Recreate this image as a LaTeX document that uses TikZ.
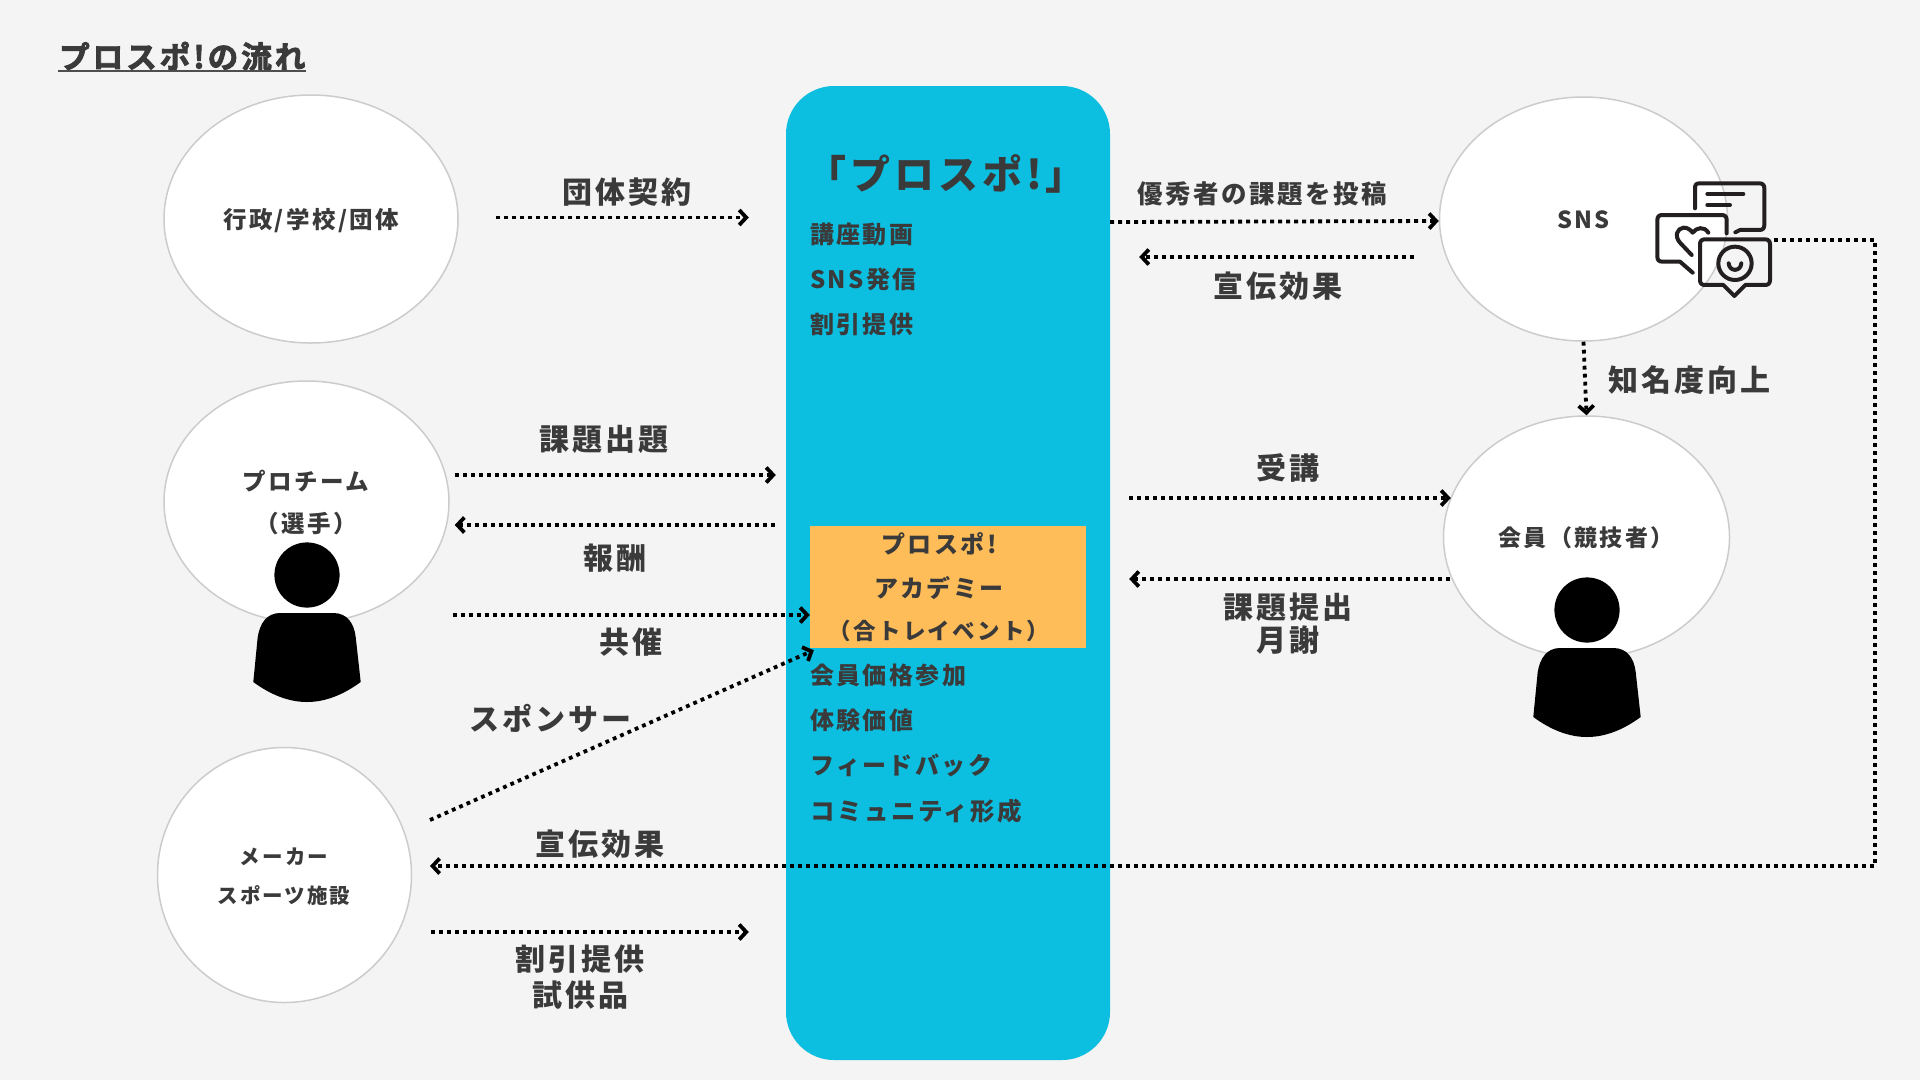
\documentclass[tikz,border=0pt]{standalone}
\usepackage{fontspec}
\setmainfont{Noto Sans CJK JP}[LetterSpace=10]
\newfontfamily\heavyfont{Noto Sans CJK JP Bold}[LetterSpace=10, FakeBold=3]
\usepackage{xcolor}
\usetikzlibrary{
  positioning, arrows.meta, shapes.geometric, calc
}
\definecolor{pageGray}{HTML}{F4F4F4}
\definecolor{coreBlue}{HTML}{0CBFE0}
\definecolor{academyOrange}{HTML}{FFBD59}
\definecolor{textDark}{HTML}{3A3A3A}
\definecolor{circleEdge}{HTML}{CCCCCC}
\definecolor{iconDark}{HTML}{231F20}

\begin{document}
\begin{tikzpicture}[
  x=1pt, y=-1pt,
  % Styles
  party/.style={
    ellipse, draw=circleEdge, line width=1.5pt, fill=white,
    inner sep=0pt, text=textDark, font=\bfseries\fontsize{23.5}{26}\selectfont,
    text height=21pt, text depth=2.4pt
  },
  flowlabel/.style={
    inner sep=0pt, text=textDark, font=\bfseries\fontsize{#1}{#1}\selectfont,
    text height=#1*0.86pt, text depth=#1*0.12pt
  },
  flowlabel/.default=30,
  flow/.style={
    -{Straight Barb[length=7pt, width=15pt, line width=3.8pt]},
    line width=3.8pt, black, dash pattern=on 3.8pt off 4.2pt
  },
  icon/.style={
    iconDark, line width=4pt, line cap=round, line join=round
  },
  person/.pic={
    \fill[black] (0,0) circle[radius=32.6];
    \fill[black] (-53.7,107) -- (-49.3,62)
      .. controls (-47,48) and (-40,38) .. (-27,38) -- (26.3,38)
      .. controls (40,38) and (47,48) .. (48.7,62) -- (53.7,107)
      .. controls (36,120) and (18,127) .. (0,127)
      .. controls (-18,127) and (-36,120) .. (-53.7,107) -- cycle;
  },
]

\fill[pageGray] (0,0) rectangle (1920,1080);
\useasboundingbox (0,0) rectangle (1920,1080);

% === TITLE ===
\node[flowlabel=30.5, anchor=west, font=\heavyfont\fontsize{30.5}{31}\selectfont] (title) at (59,57) {プロスポ!の流れ};
\draw[textDark!90, line width=2.4pt] ([xshift=-1pt,yshift=1pt]title.south west) -- ([yshift=1pt]title.south east);

% === CORE ===
\node[rectangle, rounded corners=48pt, fill=coreBlue, minimum width=324pt, minimum height=974pt, inner sep=0pt]
  (core) at (948,573) {};
\node[rectangle, fill=academyOrange, minimum width=276pt, minimum height=122pt, inner sep=0pt]
  (academy) at (948,587) {};

\node[flowlabel=40] (coretitle) at (946,175) {「プロスポ!」};
\node[flowlabel=24, anchor=west] (lecture) at (810,235) {講座動画};
\node[flowlabel=24, anchor=west] (snspost) at (810,280) {SNS発信};
\node[flowlabel=24, anchor=west] (discount) at (810,325) {割引提供};

\node[flowlabel=24] (academya) at (939,545) {プロスポ!};
\node[flowlabel=24] (academyb) at (939,589) {アカデミー};
\node[flowlabel=22.5] (academyc) at (939,631) {（合トレイベント）};

\node[flowlabel=24, anchor=west] (memberprice) at (810,676) {会員価格参加};
\node[flowlabel=24, anchor=west] (experience) at (810,721) {体験価値};
\node[flowlabel=24, anchor=west] (feedback) at (810,766) {フィードバック};
\node[flowlabel=24.5, anchor=west] (community) at (810,811) {コミュニティ形成};

% === LEFT PARTIES ===
\node[party, minimum width=294pt, minimum height=248pt] (gyosei) at (311,219) {行政/学校/団体};
\node[party, minimum width=285pt, minimum height=242pt] (team) at (306.5,502) {};
\node[party, minimum width=254pt, minimum height=255pt] (maker) at (284.5,875) {};

\node[flowlabel=23.5] (teamname) at (306,482) {プロチーム};
\node[flowlabel=23.5] (teamsub) at (306,524) {（選手）};
\node[flowlabel=20.5] (makername) at (284,857) {メーカー};
\node[flowlabel=20.5] (makersub) at (284,896) {スポーツ施設};
\pic at (307,575) {person};

% === RIGHT PARTIES ===
\node[party, minimum width=288pt, minimum height=244pt] (sns) at (1583.5,219) {SNS};
\node[party, minimum width=286pt, minimum height=242pt] (member) at (1586.5,537) {};
\node[flowlabel=23] (membername) at (1586,538) {会員（競技者）};
\pic at (1587,610) {person};

% === SNS ICON ===
\begin{scope}[shift={(1600,150)}, x=0.3333pt, y=-0.3333pt]
  \draw[icon] (285,175) -- (285,115) .. controls (285,105) and (288,100) .. (298,100) -- (478,100)
    .. controls (488,100) and (493,105) .. (493,115) -- (493,225) .. controls (493,235) and (488,240) .. (478,240)
    -- (420,240) -- (406,247);
  \draw[icon] (322,132) -- (430,132);
  \draw[icon] (322,165) -- (390,165);
  \draw[icon] (380,250) -- (380,210) .. controls (380,200) and (375,195) .. (365,195) -- (187,195)
    .. controls (177,195) and (172,200) .. (172,210) -- (172,320) .. controls (172,330) and (177,335) .. (187,335)
    -- (240,335) -- (278,368);
  \draw[icon] (275,315) -- (240,278) .. controls (222,258) and (232,235) .. (250,233)
    .. controls (262,232) and (272,240) .. (278,248) .. controls (290,232) and (312,228) .. (325,248);
  \draw[icon] (315,268) -- (495,268) .. controls (505,268) and (510,273) .. (510,283) -- (510,390)
    .. controls (510,400) and (505,405) .. (495,405) -- (436,405) -- (403,438) -- (370,405) -- (315,405)
    .. controls (305,405) and (300,400) .. (300,390) -- (300,283) .. controls (300,273) and (305,268) .. (315,268) -- cycle;
  \draw[icon] (405,340) circle[radius=50];
  \draw[icon] (386,340) .. controls (388,366) and (422,366) .. (424,340);
\end{scope}
\coordinate (snsicon) at (1774,240);
\coordinate (snscorner) at (1875,240);

% === Flow Arrows, left side ===
\draw[flow] ([xshift=37pt,yshift=1.5pt]gyosei.east) -- ([xshift=-37pt,yshift=1.5pt]core.west |- gyosei.east);
\node[flowlabel] (contract) at (627,192) {団体契約};

\draw[flow] ([xshift=5pt]team.east |- 0,475) -- ([xshift=-10pt]core.west |- 0,475);
\node[flowlabel] (assign) at (604,439) {課題出題};
\draw[flow] ([xshift=-11pt]core.west |- 0,525) -- ([xshift=5pt]team.east |- 0,525);
\node[flowlabel] (reward) at (615,558) {報酬};
\draw[flow] ([xshift=3pt]team.east |- academy.west) ++(0,28) -- ([yshift=-28pt]academy.west);
\node[flowlabel] (cohost) at (631,642) {共催};

\coordinate (makerout) at (430,820);
\draw[flow] (makerout) -- ([xshift=4pt,yshift=-2pt]academy.south west);
\node[flowlabel] (sponsor) at (550,719) {スポンサー};

\coordinate (makerin) at (430,866);
\draw[flow] (snsicon) -- (snscorner) -- (snscorner |- makerin) -- (makerin);
\node[flowlabel] (effectb) at (600,844) {宣伝効果};

\draw[flow] (431,932) -- ([xshift=-37pt]core.west |- 0,932);
\node[flowlabel] (benefita) at (580,959) {割引提供};
\node[flowlabel] (benefitb) at (580,995) {試供品};

% === Flow Arrows, right side ===
\draw[flow] (core.east |- 0,222) -- (sns.west |- 0,221);
\node[flowlabel=25.5] (repost) at (1262,194) {優秀者の課題を投稿};
\draw[flow] ([xshift=-25pt]sns.west |- 0,257) -- ([xshift=29pt]core.east |- 0,257);
\node[flowlabel] (effecta) at (1278,286) {宣伝効果};

\draw[flow] (sns.south) -- (member.north);
\node[flowlabel] (awareness) at (1689,380) {知名度向上};

\draw[flow] ([xshift=19pt]core.east |- 0,498) -- ([xshift=8pt]member.west |- 0,498);
\node[flowlabel] (attend) at (1288,468) {受講};
\draw[flow] ([xshift=7pt]member.west |- 0,579) -- ([xshift=19pt]core.east |- 0,579);
\node[flowlabel] (submita) at (1288,607) {課題提出};
\node[flowlabel] (submitb) at (1288,640) {月謝};

\end{tikzpicture}
\end{document}
